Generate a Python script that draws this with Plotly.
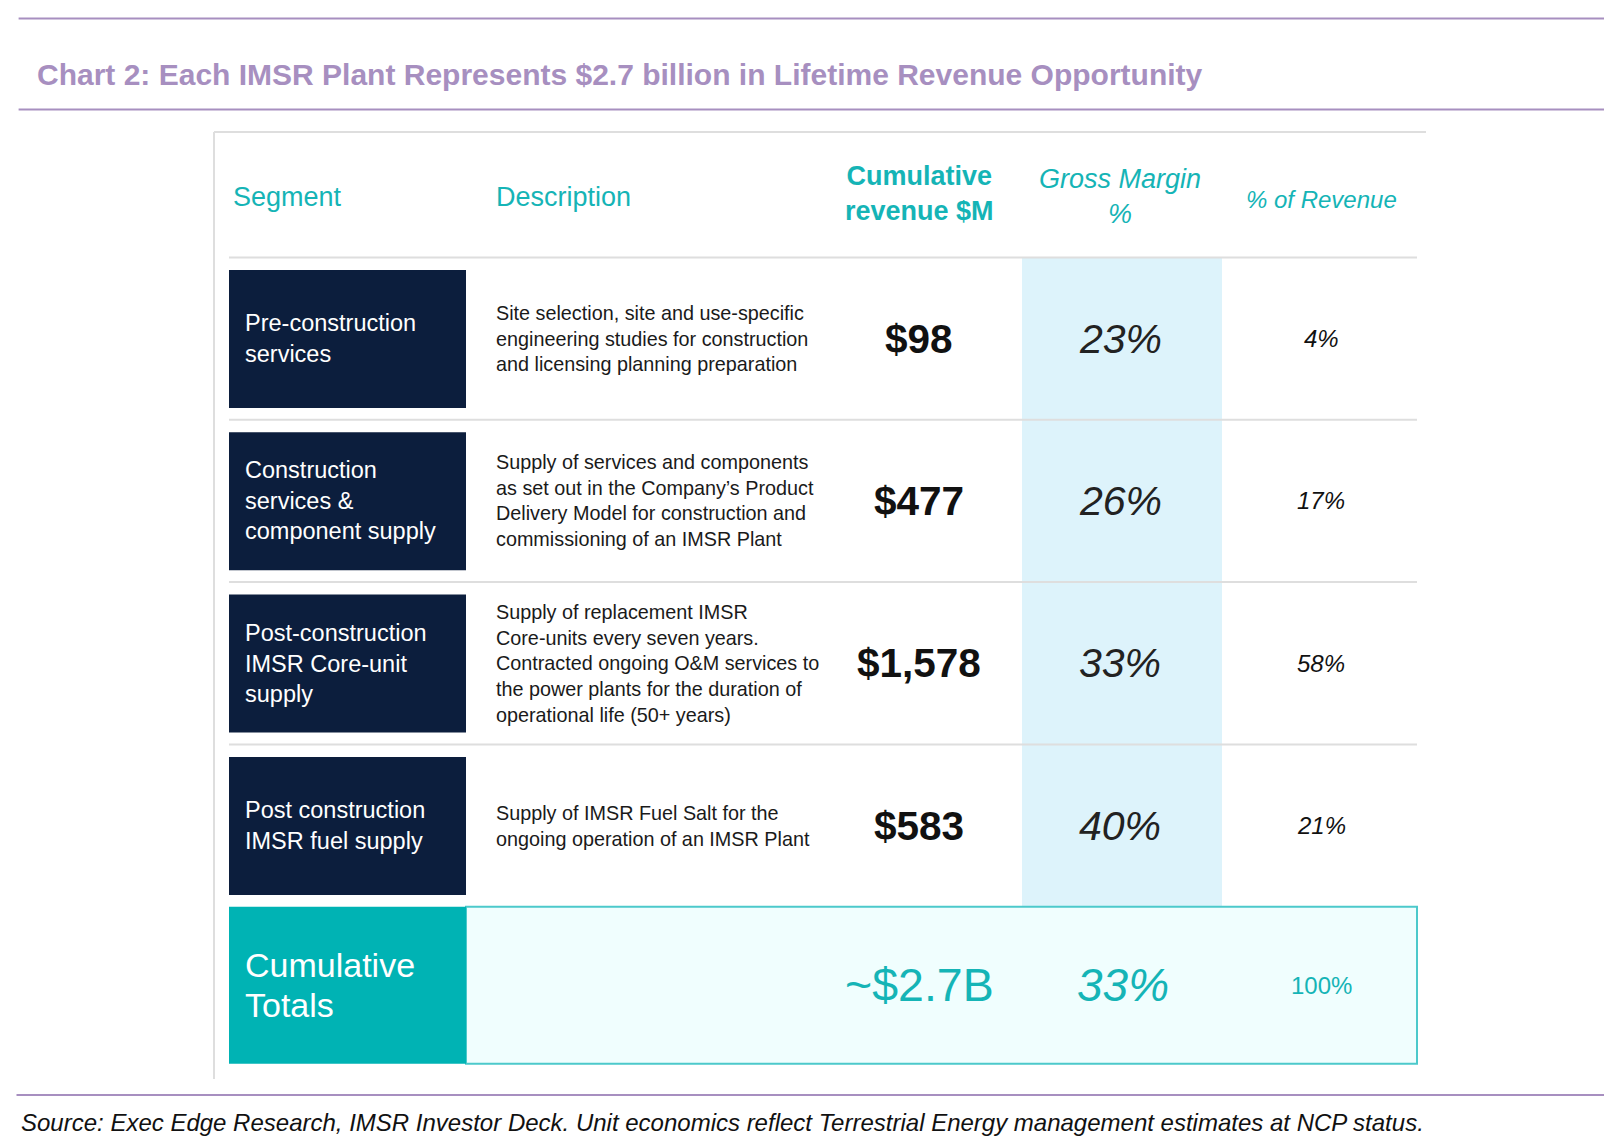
import plotly.graph_objects as go

# --- data
title = "Chart 2: Each IMSR Plant Represents $2.7 billion in Lifetime Revenue Opportunity"
source = ("Source: Exec Edge Research, IMSR Investor Deck. Unit economics reflect "
          "Terrestrial Energy management estimates at NCP status.")

headers = ["Segment", "Description", "Cumulative<br>revenue $M", "Gross Margin<br>%", "% of Revenue"]

segments = [
    "Pre-construction<br>services",
    "Construction<br>services &<br>component supply",
    "Post-construction<br>IMSR Core-unit<br>supply",
    "Post construction<br>IMSR fuel supply",
]
descriptions = [
    "Site selection, site and use-specific<br>engineering studies for construction<br>and licensing planning preparation",
    "Supply of services and components<br>as set out in the Company\u2019s Product<br>Delivery Model for construction and<br>commissioning of an IMSR Plant",
    "Supply of replacement IMSR<br>Core-units every seven years.<br>Contracted ongoing O&M services to<br>the power plants for the duration of<br>operational life (50+ years)",
    "Supply of IMSR Fuel Salt for the<br>ongoing operation of an IMSR Plant",
]
revenue = [98, 477, 1578, 583]          # $M
gross_margin = [23, 26, 33, 40]         # %
pct_revenue = [4, 17, 58, 21]           # %

total_label = ["Cumulative", "Totals"]
total_revenue = "~$2.7B"
total_margin = 33
total_pct = 100

# --- colours / fonts
PURPLE = "#A78FC0"
TEAL = "#15B4B6"
NAVY = "#0C1E3D"
SHADE = "#DDF3FB"
GRID = "#DEDEDE"
FONT = "Liberation Sans, Arial, sans-serif"

W, H, OFF = 1603, 1131, 8

# --- geometry (pixel space of the page)
x_left, x_right = 229, 1417
box_l, box_r = 229, 466
gm_l, gm_r = 1022, 1222
row_top0, row_h = 257.5, 162.3
header_y = 197
col_x = {"seg": 243, "desc": 494, "rev": 919, "gm": 1120, "pct": 1321}

fig = go.Figure()
shapes = []
ann = []

n = len(segments)
rows_bottom = row_top0 + n * row_h
tot_top, tot_bot = rows_bottom, rows_bottom + 157

# outer frame lines
shapes.append(dict(type="line", x0=214, x1=1426, y0=132, y1=132, line=dict(color=GRID, width=2)))
shapes.append(dict(type="line", x0=214, x1=214, y0=132, y1=1079, line=dict(color=GRID, width=2)))

# gross margin shaded column
shapes.append(dict(type="rect", x0=gm_l, x1=gm_r, y0=row_top0, y1=rows_bottom,
                   fillcolor=SHADE, line=dict(width=0), layer="below"))

# header texts
hdr_x = [231, col_x["desc"], col_x["rev"], col_x["gm"], col_x["pct"]]
hdr_anchor = ["left", "left", "center", "center", "center"]
hdr_style = ["normal", "normal", "normal", "italic", "italic"]
hdr_weight = ["normal", "normal", "bold", "normal", "normal"]
hdr_size = [27, 27, 27, 27, 24]
hdr_dy = [0, 0, -4, -1, 2]
for i, h in enumerate(headers):
    ann.append(dict(x=hdr_x[i], y=header_y + hdr_dy[i], text=h, xanchor=hdr_anchor[i], yanchor="middle",
                    showarrow=False, align="center",
                    font=dict(family=FONT, size=hdr_size[i], color=TEAL, style=hdr_style[i], weight=hdr_weight[i])))

for i in range(n):
    top = row_top0 + i * row_h
    mid = top + row_h / 2
    # separator
    shapes.append(dict(type="line", x0=x_left, x1=x_right, y0=top, y1=top, line=dict(color=GRID, width=2)))
    # navy box
    shapes.append(dict(type="rect", x0=box_l, x1=box_r, y0=top + 12.5, y1=top + 150.5,
                       fillcolor=NAVY, line=dict(width=0)))
    ann.append(dict(x=col_x["seg"], y=mid, text=segments[i], xanchor="left", yanchor="middle",
                    showarrow=False, align="left", font=dict(family=FONT, size=23.5, color="white")))
    ann.append(dict(x=col_x["desc"], y=mid, text=descriptions[i], xanchor="left", yanchor="middle",
                    showarrow=False, align="left", font=dict(family=FONT, size=19.8, color="#1a1a1a")))
    ann.append(dict(x=col_x["rev"], y=mid, text=f"${revenue[i]:,}", xanchor="center", yanchor="middle",
                    showarrow=False, font=dict(family=FONT, size=40.5, color="#111111", weight="bold")))
    ann.append(dict(x=col_x["gm"], y=mid, text=f"{gross_margin[i]}%", xanchor="center", yanchor="middle",
                    showarrow=False, font=dict(family=FONT, size=41, color="#222222", style="italic")))
    ann.append(dict(x=col_x["pct"], y=mid, text=f"{pct_revenue[i]}%", xanchor="center", yanchor="middle",
                    showarrow=False, font=dict(family=FONT, size=24, color="#111111", style="italic")))

# totals row
tot_mid = (tot_top + tot_bot) / 2
shapes.append(dict(type="rect", x0=box_r, x1=x_right, y0=tot_top, y1=tot_bot,
                   fillcolor="#F0FEFE", line=dict(color="#4CC9CB", width=2)))
shapes.append(dict(type="rect", x0=box_l, x1=box_r, y0=tot_top, y1=tot_bot,
                   fillcolor="#00B3B4", line=dict(width=0)))
for k, line in enumerate(total_label):
    ann.append(dict(x=col_x["seg"], y=tot_mid + (k - 0.5) * 40, text=line, xanchor="left", yanchor="middle",
                    showarrow=False, align="left", font=dict(family=FONT, size=34, color="white")))
ann.append(dict(x=col_x["rev"], y=tot_mid, text=total_revenue, xanchor="center", yanchor="middle",
                showarrow=False, font=dict(family=FONT, size=46.5, color=TEAL)))
ann.append(dict(x=col_x["gm"] + 3, y=tot_mid, text=f"{total_margin}%", xanchor="center", yanchor="middle",
                showarrow=False, font=dict(family=FONT, size=46, color=TEAL, style="italic")))
ann.append(dict(x=col_x["pct"], y=tot_mid, text=f"{total_pct}%", xanchor="center", yanchor="middle",
                showarrow=False, font=dict(family=FONT, size=24, color=TEAL)))

# purple rules, title, source
for yy in (18.6, 109.5):
    shapes.append(dict(type="line", x0=18.6, x1=1604, y0=yy, y1=yy, line=dict(color=PURPLE, width=2)))
shapes.append(dict(type="line", x0=16.5, x1=1604, y0=1095, y1=1095, line=dict(color=PURPLE, width=2)))
ann.append(dict(x=35, y=74, text=title, xanchor="left", yanchor="middle", showarrow=False,
                font=dict(family=FONT, size=30, color=PURPLE, weight="bold")))
ann.append(dict(x=19, y=OFF + H - 1, text=source, xanchor="left", yanchor="bottom", showarrow=False,
                font=dict(family=FONT, size=24, color="#111111", style="italic")))

fig.update_layout(
    width=W, height=H,
    margin=dict(l=0, r=0, t=0, b=0),
    paper_bgcolor="white", plot_bgcolor="white",
    shapes=shapes, annotations=ann, showlegend=False,
    xaxis=dict(range=[OFF, OFF + W], visible=False, fixedrange=True),
    yaxis=dict(range=[OFF + H, OFF], visible=False, fixedrange=True),
)

fig.write_html("out.html")
